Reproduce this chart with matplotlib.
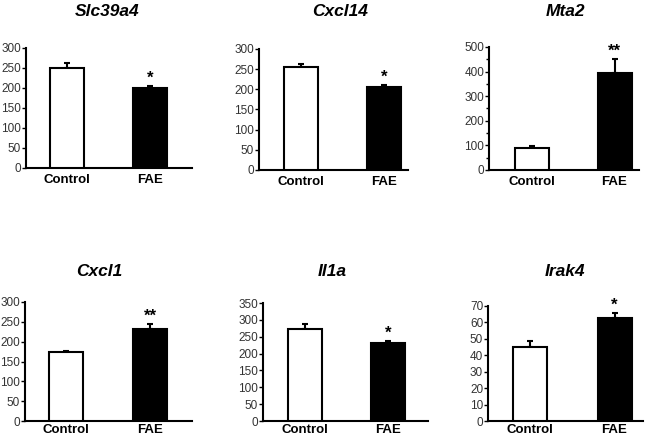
import numpy as np
import matplotlib
matplotlib.use("Agg")
import matplotlib.pyplot as plt
from matplotlib.ticker import MultipleLocator, AutoMinorLocator

plt.rcParams["font.family"] = ["Liberation Sans", "DejaVu Sans"]

W, H = 659, 438

groups   = ["Control", "FAE"]
genes    = ["Slc39a4", "Cxcl14", "Mta2", "Cxcl1", "Il1a", "Irak4"]
means    = [[250, 200], [255, 205], [88, 395], [173, 233], [272, 232], [45, 63]]
errs     = [[12, 5], [8, 6], [9, 57], [3, 11], [15, 5], [4, 3]]
stars    = ["*", "*", "**", "**", "*", "*"]
ymax     = [300, 300, 500, 300, 350, 70]
ystep    = [50, 50, 100, 50, 50, 10]

# layout in pixels: left, right, top, bottom of axes; x of bar centers; title x
axes_px  = [(26, 192, 48, 168), (259, 408, 49, 170), (489, 639, 47, 170),
            (25, 192, 302, 421), (263, 428, 303, 421), (488, 643, 306, 421)]
centers  = [(67, 150), (301, 384), (531.5, 614.5),
            (66, 150), (305, 388), (530, 614.5)]
title_x  = [107, 340, 565, 99, 332, 565]
title_y  = [12, 12, 12, 271, 271, 272]
xpad     = [4.5, 4.5, 4.5, 2.5, 2.5, 2.5]

fig = plt.figure(figsize=(W / 100, H / 100), dpi=100)

for i, gene in enumerate(genes):
    l, r, t, b = axes_px[i]
    ax = fig.add_axes([l / W, 1 - b / H, (r - l) / W, (b - t) / H])
    c0, c1 = centers[i]
    d = c1 - c0
    ax.set_xlim((l - c0) / d, (r - c0) / d)
    ax.set_ylim(0, ymax[i])
    x = np.arange(len(groups))
    ax.bar(x, means[i], width=34 / d, color=["white", "black"],
           edgecolor="black", linewidth=1.5, zorder=3)
    ax.errorbar(x, means[i], yerr=[[0, 0], errs[i]], fmt="none",
                ecolor="black", elinewidth=1.5, capsize=2, capthick=1.5, zorder=2)
    ax.annotate(stars[i], (1, means[i][1] + errs[i][1]), xytext=(0, 0),
                textcoords="offset points", ha="center", va="bottom",
                fontsize=12, fontweight="bold")
    ax.yaxis.set_major_locator(MultipleLocator(ystep[i]))
    if gene == "Mta2":
        ax.yaxis.set_minor_locator(AutoMinorLocator(2))
    ax.set_xticks(x)
    ax.set_xticklabels(groups, fontsize=9.5, fontweight="bold")
    ax.tick_params(axis="x", length=0, pad=xpad[i])
    ax.tick_params(axis="y", which="major", length=3, width=1, pad=0.5,
                   labelsize=8.5, labelcolor="#333333")
    ax.tick_params(axis="y", which="minor", length=2, width=1)
    for s in ["top", "right"]:
        ax.spines[s].set_visible(False)
    for s in ["left", "bottom"]:
        ax.spines[s].set_linewidth(1.5)
    fig.text(title_x[i] / W, 1 - title_y[i] / H, gene, ha="center", va="center",
             fontsize=12.5, fontweight="bold", fontstyle="italic")

fig.savefig("out.png", dpi=100)
